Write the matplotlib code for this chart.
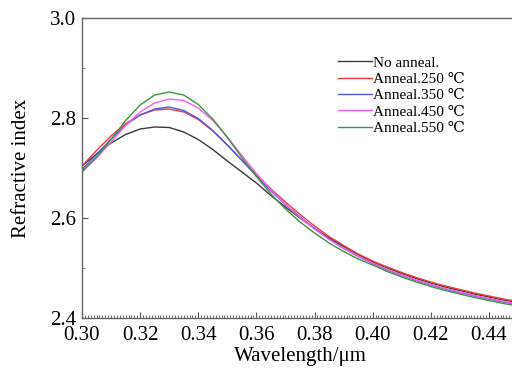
import matplotlib
matplotlib.use("Agg")
import matplotlib.pyplot as plt
from matplotlib.ticker import MultipleLocator

plt.rcParams['font.family'] = ['Liberation Serif', 'DejaVu Serif']

wavelength = [0.300, 0.305, 0.310, 0.315, 0.320, 0.325, 0.330, 0.335, 0.340, 0.345,
              0.350, 0.355, 0.360, 0.365, 0.370, 0.375, 0.380, 0.385, 0.390, 0.395,
              0.400, 0.405, 0.410, 0.415, 0.420, 0.425, 0.430, 0.435, 0.440, 0.445, 0.450]

no_anneal = [2.704, 2.728, 2.750, 2.767, 2.778, 2.782, 2.781, 2.772, 2.757, 2.737,
             2.714, 2.692, 2.670, 2.645, 2.622, 2.600, 2.579, 2.560, 2.543, 2.527,
             2.512, 2.500, 2.489, 2.479, 2.470, 2.462, 2.455, 2.448, 2.442, 2.436, 2.431]
anneal_250 = [2.704, 2.735, 2.764, 2.789, 2.806, 2.816, 2.818, 2.812, 2.797, 2.774,
              2.746, 2.716, 2.687, 2.658, 2.632, 2.607, 2.584, 2.563, 2.545, 2.528,
              2.514, 2.502, 2.491, 2.481, 2.472, 2.464, 2.457, 2.450, 2.444, 2.438, 2.433]
anneal_350 = [2.697, 2.727, 2.758, 2.786, 2.806, 2.818, 2.822, 2.815, 2.799, 2.775,
              2.746, 2.715, 2.684, 2.654, 2.627, 2.602, 2.579, 2.558, 2.539, 2.523,
              2.509, 2.496, 2.485, 2.475, 2.466, 2.458, 2.451, 2.444, 2.438, 2.432, 2.427]
anneal_450 = [2.693, 2.720, 2.752, 2.785, 2.812, 2.830, 2.838, 2.835, 2.820, 2.795,
              2.762, 2.725, 2.689, 2.656, 2.627, 2.601, 2.578, 2.557, 2.539, 2.523,
              2.510, 2.497, 2.486, 2.476, 2.467, 2.459, 2.452, 2.445, 2.439, 2.433, 2.428]
anneal_550 = [2.692, 2.722, 2.757, 2.795, 2.826, 2.846, 2.852, 2.846, 2.827, 2.798,
              2.761, 2.721, 2.683, 2.648, 2.618, 2.592, 2.570, 2.550, 2.533, 2.518,
              2.506, 2.493, 2.482, 2.472, 2.463, 2.455, 2.448, 2.441, 2.435, 2.429, 2.424]

series = [
    ("No anneal.", no_anneal, "#3a3a3a"),
    ("Anneal.250 \u2103", anneal_250, "#ee3b3b"),
    ("Anneal.350 \u2103", anneal_350, "#5555e0"),
    ("Anneal.450 \u2103", anneal_450, "#f060f0"),
    ("Anneal.550 \u2103", anneal_550, "#3c963c"),
]

fig = plt.figure(figsize=(5.12, 3.70), dpi=100)
ax = fig.add_axes([82/512, 1-318/370, 436/512, 300/370])

for label, vals, col in series:
    ax.plot(wavelength, vals, color=col, lw=1.0, label=label)

ax.set_xlim(0.30, 0.45)
ax.set_ylim(2.4, 3.0)
ax.xaxis.set_major_locator(MultipleLocator(0.02))
ax.xaxis.set_minor_locator(MultipleLocator(0.001))
ax.yaxis.set_major_locator(MultipleLocator(0.2))
ax.yaxis.set_minor_locator(MultipleLocator(0.1))
ax.set_xticks(ax.get_xticks())
ax.set_xticklabels([f"{v:.2f}" for v in ax.get_xticks()])
ax.set_yticks(ax.get_yticks())
ax.set_yticklabels([f"{v:.1f}" for v in ax.get_yticks()])
ax.set_xlim(0.30, 0.45)
ax.set_ylim(2.4, 3.0)
ax.tick_params(axis='both', which='major', direction='in', length=4, width=0.8,
               labelsize=15, color='#555555')
ax.tick_params(axis='x', which='major', pad=6)
ax.tick_params(axis='y', which='major', pad=4)
ax.tick_params(axis='both', which='minor', direction='in', length=2, width=0.6,
               color='#555555')
ax.tick_params(top=False, right=False, which='both')
for s in ax.spines.values():
    s.set_color('#666666')
    s.set_linewidth(1.0)

ax.set_xlabel("Wavelength/\u03bcm", fontsize=15, labelpad=1)
ax.set_ylabel("Refractive index", fontsize=15, labelpad=14)

leg = ax.legend(loc='upper left', frameon=False, fontsize=11,
                handlelength=2.2, handletextpad=0.1, labelspacing=0.17,
                borderaxespad=0, borderpad=0)
leg.set_bbox_to_anchor((338/512, 1-56/370), transform=fig.transFigure)

fig.savefig("out.png", dpi=100)
